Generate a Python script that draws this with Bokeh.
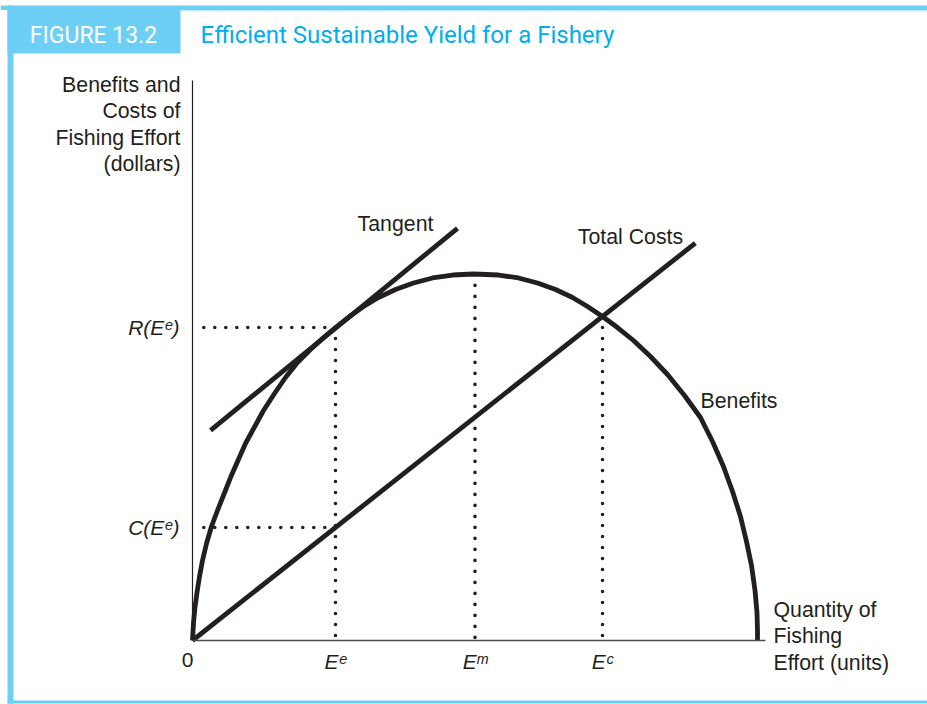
from bokeh.plotting import figure
from bokeh.models import Range1d, LinearAxis, FixedTicker, Label, BoxAnnotation
from bokeh.embed import file_html
from bokeh.resources import INLINE

# ---------------- data ----------------
# Benefits (sustainable revenue) curve: effort units vs dollars
effort = [0.0, 0.18, 0.44, 0.80, 1.24, 1.77, 2.48, 3.36, 4.42, 5.58,
          6.73, 8.05, 9.38, 10.97, 12.57, 14.51, 16.46, 18.58, 20.88, 23.01,
          25.31, 27.79, 30.27, 32.92, 35.93, 39.12, 42.48, 46.02, 49.73,
          54.16, 57.70, 61.06, 64.25, 67.26, 69.91, 72.57, 75.22, 78.05,
          81.06, 84.07, 87.08, 89.91, 92.04, 93.98, 95.58, 96.99, 98.05,
          98.94, 99.56, 99.91, 100.0, 100.0]
benefits = [0.0, 4.89, 8.97, 13.04, 17.39, 21.74, 26.36, 30.98, 35.33, 39.81,
            44.29, 48.91, 53.53, 58.02, 62.50, 67.12, 71.47, 75.54, 79.08, 82.07,
            85.05, 88.04, 90.76, 93.21, 95.38, 97.15, 98.51, 99.32, 99.59,
            99.32, 98.51, 97.15, 95.38, 93.21, 90.76, 88.04, 85.05, 81.52,
            77.17, 72.28, 66.58, 60.60, 54.08, 47.28, 40.49, 33.70, 26.90,
            20.38, 13.59, 7.61, 2.72, 0.0]
# Total costs line
cost_effort = [0.0, 89.0]
cost_total = [0.0, 108.0]
# Tangent line at the efficient effort level
tangent_effort = [3.2, 46.9]
tangent_value = [57.1, 112.0]
# Key effort levels and values
E_e, E_m, E_c = 25.31, 50.0, 72.57
R_Ee, C_Ee = 85.05, 30.71
R_Ec = 88.04
E_m_guide_top = 96.5
x_tick_values = [E_e, E_m, E_c]
x_tick_labels = ["E\u1d49", "E\u1d50", "E\u1d9c"]
y_tick_values = [C_Ee, R_Ee]
y_tick_labels = ["C(E\u1d49)", "R(E\u1d49)"]
y_title_lines = ["Benefits and", "Costs of", "Fishing Effort", "(dollars)"]
x_title_lines = ["Quantity of", "Fishing", "Effort (units)"]

# ---------------- layout ----------------
W, H = 927, 704
OX, OY = 192, 640          # canvas pixel of the data origin
PX_X, PX_Y = 5.65, 3.68    # pixels per data unit


def ix(px):
    return (px - OX) / PX_X


def iy(py):
    return (OY - py) / PX_Y


INK = "#231f20"
BLUE_LIGHT = "#6dcff6"
BLUE = "#00aeef"
BODY_FONT = "Liberation Sans"
BODY_SIZE = "21.3px"

p = figure(width=W, height=H, output_backend="svg", toolbar_location=None,
           x_range=Range1d(ix(0), ix(W)), y_range=Range1d(iy(H), iy(0)),
           x_axis_type=None, y_axis_type=None, min_border=0)
p.outline_line_color = None
p.background_fill_color = "white"
p.border_fill_color = "white"

# axes
xaxis = LinearAxis(fixed_location=0, bounds=(0, ix(765)),
                   ticker=FixedTicker(ticks=x_tick_values),
                   major_label_overrides=dict(zip(x_tick_values, x_tick_labels)))
xaxis.axis_line_color = "#4d4d4f"
xaxis.axis_line_width = 1.6
xaxis.major_tick_line_color = None
xaxis.minor_tick_line_color = None
xaxis.major_label_text_font = BODY_FONT
xaxis.major_label_text_font_size = "21px"
xaxis.major_label_text_font_style = "italic"
xaxis.major_label_text_color = INK
xaxis.major_label_standoff = 3
p.add_layout(xaxis, "below")

yaxis = LinearAxis(fixed_location=0, bounds=(0, iy(80)),
                   ticker=FixedTicker(ticks=y_tick_values),
                   major_label_overrides=dict(zip(y_tick_values, y_tick_labels)))
yaxis.axis_line_color = INK
yaxis.axis_line_width = 1.2
yaxis.major_tick_line_color = None
yaxis.minor_tick_line_color = None
yaxis.major_label_text_font = BODY_FONT
yaxis.major_label_text_font_size = "21px"
yaxis.major_label_text_font_style = "italic"
yaxis.major_label_text_color = INK
yaxis.major_label_standoff = 7
p.add_layout(yaxis, "left")

# dotted guides
dot = dict(line_color=INK, line_width=3.6, line_dash="0 11", line_cap="round")
p.line([2.0, E_e], [R_Ee, R_Ee], **dot)
p.line([2.0, E_e], [C_Ee, C_Ee], **dot)
p.line([E_e, E_e], [R_Ee, 0], **dot)
p.line([E_m, E_m], [E_m_guide_top, 0], **dot)
p.line([E_c, E_c], [R_Ec, 0], **dot)

# curves
p.line(effort, benefits, line_color=INK, line_width=4.8, line_join="round")
p.line(cost_effort, cost_total, line_color=INK, line_width=4.8)
p.line(tangent_effort, tangent_value, line_color=INK, line_width=4.8)

# header and frame decorations
deco = dict(fill_color=BLUE_LIGHT, fill_alpha=1.0, line_color=None, level="underlay")
p.add_layout(BoxAnnotation(left=ix(0), right=ix(W), top=iy(5), bottom=iy(9.5), **deco))
p.add_layout(BoxAnnotation(left=ix(7), right=ix(13), top=iy(5), bottom=iy(703), **deco))
p.add_layout(BoxAnnotation(left=ix(7), right=ix(W), top=iy(700), bottom=iy(703), **deco))
p.add_layout(BoxAnnotation(left=ix(7), right=ix(180), top=iy(9), bottom=iy(53), **deco))
p.add_layout(BoxAnnotation(left=ix(180), right=ix(W), top=iy(9.5), bottom=iy(11),
                           fill_color="#c4ecfb", fill_alpha=1.0, line_color=None, level="underlay"))

p.add_layout(Label(x=ix(93), y=iy(34.5), text="FIGURE 13.2", text_align="center",
                   text_baseline="middle", text_color="white",
                   text_font="Roboto", text_font_size="23px"))
p.add_layout(Label(x=ix(200), y=iy(34.5), text="Efficient Sustainable Yield for a Fishery",
                   text_align="left", text_baseline="middle", text_color=BLUE,
                   text_font="Roboto", text_font_size="24px"))

# text annotations (y = centre of the capitals)
txt = dict(text_color=INK, text_font=BODY_FONT, text_font_size=BODY_SIZE,
           text_baseline="middle")
p.add_layout(Label(x=ix(395), y=iy(223), text="Tangent", text_align="center", **txt))
p.add_layout(Label(x=ix(630), y=iy(236.5), text="Total Costs", text_align="center", **txt))
p.add_layout(Label(x=ix(700), y=iy(400.5), text="Benefits", text_align="left", **txt))
for i, line in enumerate(x_title_lines):
    p.add_layout(Label(x=ix(773), y=iy(609 + 26.7 * i), text=line, text_align="left", **txt))
for i, line in enumerate(y_title_lines):
    p.add_layout(Label(x=ix(180), y=iy(84 + 26.5 * i), text=line, text_align="right", **txt))
p.add_layout(Label(x=ix(187), y=iy(659.5), text="0", text_align="center",
                   text_color=INK, text_font=BODY_FONT, text_font_size="21px",
                   text_baseline="middle"))

open("out.html", "w").write(file_html(p, INLINE))
